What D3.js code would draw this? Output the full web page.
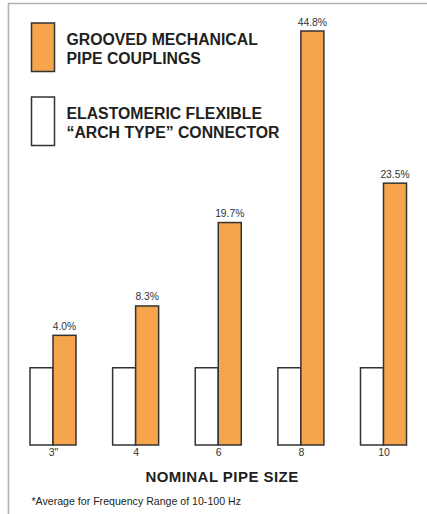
<!DOCTYPE html>
<html>
<head>
<meta charset="utf-8">
<script src="https://cdn.jsdelivr.net/npm/d3@7"></script>
<style>
  html, body { margin: 0; padding: 0; background: #fff; }
  svg { display: block; font-family: "Liberation Sans", Arial, Helvetica, sans-serif; }
</style>
</head>
<body>
<svg id="chart" width="427" height="514"></svg>
<script>
// ---- data ----
const categories = ["3\"", "4", "6", "8", "10"];
const grooveLabels = ["4.0%", "8.3%", "19.7%", "44.8%", "23.5%"];
// bar heights, relative to the elastomeric connector bar (= 1.0)
const grooveHeights = [1.42, 1.80, 2.88, 5.36, 3.39];
const archHeights = [1.0, 1.0, 1.0, 1.0, 1.0];
const legendGroove = ["GROOVED MECHANICAL", "PIPE COUPLINGS"];
const legendArch = ["ELASTOMERIC FLEXIBLE", "\u201CARCH TYPE\u201D CONNECTOR"];
const axisTitle = "NOMINAL PIPE SIZE";
const footnote = "*Average for Frequency Range of 10-100 Hz";

const ORANGE = "#F6A54C";
const STROKE = "#333";
const TEXT = "#231f20";

const svg = d3.select("#chart");

// frame (top and left rule)
svg.append("path")
  .attr("d", "M8.5,514 L8.5,3.5 L427,3.5")
  .attr("fill", "none").attr("stroke", "#b4b4b4").attr("stroke-width", 1.6);

const x = d3.scalePoint().domain(categories).range([53, 383.5]);
const y = d3.scaleLinear().domain([0, 5.36]).range([445, 31]);
const barW = 23;

const g = svg.append("g");
const groups = g.selectAll("g.grp").data(categories).join("g").attr("class", "grp");

// white bars (left)
groups.append("rect")
  .attr("x", (d) => x(d) - barW)
  .attr("y", (d, i) => y(archHeights[i]))
  .attr("width", barW)
  .attr("height", (d, i) => y(0) - y(archHeights[i]))
  .attr("fill", "#fff").attr("stroke", STROKE).attr("stroke-width", 1.5);

// orange bars (right)
groups.append("rect")
  .attr("x", (d) => x(d))
  .attr("y", (d, i) => y(grooveHeights[i]))
  .attr("width", barW)
  .attr("height", (d, i) => y(0) - y(grooveHeights[i]))
  .attr("fill", ORANGE).attr("stroke", STROKE).attr("stroke-width", 1.5);

// value labels
groups.append("text")
  .attr("x", (d) => x(d) + barW / 2)
  .attr("y", (d, i) => y(grooveHeights[i]) - 5.5)
  .attr("text-anchor", "middle")
  .attr("font-size", 10.3)
  .attr("fill", "#333")
  .text((d, i) => grooveLabels[i]);

// x axis (labels only)
const xAxis = d3.axisBottom(x).tickSize(0).tickPadding(3.5);
const ax = svg.append("g").attr("transform", `translate(0,${y(0)})`).call(xAxis);
ax.select(".domain").remove();
ax.selectAll("text").attr("font-size", 10.5).attr("fill", "#333")
  .attr("font-family", "Liberation Sans, Arial, sans-serif");

// axis title
svg.append("text")
  .attr("x", 222).attr("y", 481.5)
  .attr("text-anchor", "middle")
  .attr("font-size", 15).attr("font-weight", "bold").attr("fill", TEXT)
  .attr("letter-spacing", 0.45)
  .text(axisTitle);

// footnote
svg.append("text")
  .attr("x", 31.5).attr("y", 504.5)
  .attr("font-size", 10.6).attr("fill", TEXT)
  .text(footnote);

// legend
const legend = svg.append("g");
legend.append("rect").attr("x", 31.5).attr("y", 23).attr("width", 23).attr("height", 48.5)
  .attr("fill", ORANGE).attr("stroke", STROKE).attr("stroke-width", 1.5);
legend.append("rect").attr("x", 31.5).attr("y", 97).attr("width", 23).attr("height", 48.5)
  .attr("fill", "#fff").attr("stroke", STROKE).attr("stroke-width", 1.5);

const legendText = (lines, y0) => {
  legend.append("text")
    .attr("font-size", 15.8).attr("font-weight", "bold").attr("fill", TEXT)
    .selectAll("tspan").data(lines).join("tspan")
    .attr("x", 66.5).attr("y", (d, i) => y0 + i * 19)
    .text((d) => d);
};
legendText(legendGroove, 44.5);
legendText(legendArch, 118.5);
</script>
</body>
</html>
